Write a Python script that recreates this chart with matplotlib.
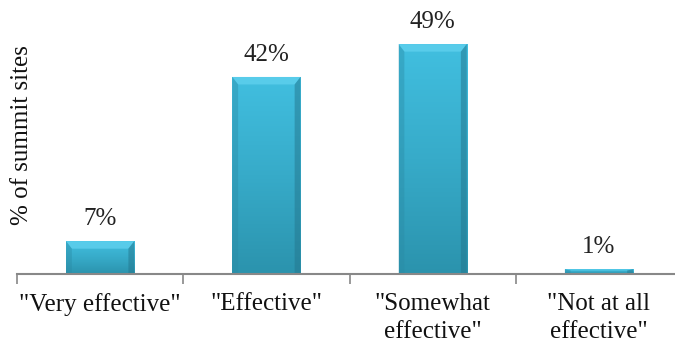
import numpy as np
import matplotlib.pyplot as plt
from matplotlib.colors import LinearSegmentedColormap
from matplotlib.patches import Polygon

categories = ['"Very effective"', '"Effective"', '"Somewhat\neffective"', '"Not at all\neffective"']
values = [7, 42, 49, 1]
labels = ['7%', '42%', '49%', '1%']

plt.rcParams['font.family'] = ['Liberation Serif', 'DejaVu Serif']

fig = plt.figure(figsize=(6.75, 3.48), dpi=100)
# axes runs a little past the right edge, like the original
ax = fig.add_axes([17/675, 74/348, 665/675, 274/348])

width = 0.41
x = np.arange(len(values))
bars = ax.bar(x, values, width=width, color='#3ab4d6', edgecolor='#2a7f96', linewidth=0.6, zorder=2)

# vertical shading inside each bar
cmap = LinearSegmentedColormap.from_list('cy', ['#2b93ad', '#37abc9', '#41bfe0'])
grad = np.linspace(0, 1, 256).reshape(-1, 1)
for b in bars:
    x0, y0 = b.get_x(), b.get_y()
    w, h = b.get_width(), b.get_height()
    im = ax.imshow(grad, cmap=cmap, origin='lower', aspect='auto',
                   extent=[x0, x0 + w, y0, y0 + h], zorder=3)
    im.set_clip_path(b)
    # bevel at the top edge
    bv = min(1.6, h * 0.25)
    bx = 0.035
    ax.add_patch(Polygon([[x0, y0 + h], [x0 + w, y0 + h], [x0 + w - bx, y0 + h - bv], [x0 + bx, y0 + h - bv]],
                         closed=True, facecolor='#5fd0ee', edgecolor='none', alpha=0.8, zorder=4))
    # darker sides
    ax.add_patch(Polygon([[x0, y0], [x0, y0 + h], [x0 + bx, y0 + h - bv], [x0 + bx, y0]],
                         closed=True, facecolor='#2a8aa4', edgecolor='none', alpha=0.4, zorder=4))
    ax.add_patch(Polygon([[x0 + w, y0], [x0 + w, y0 + h], [x0 + w - bx, y0 + h - bv], [x0 + w - bx, y0]],
                         closed=True, facecolor='#24768d', edgecolor='none', alpha=0.5, zorder=4))

for xi, v, lab in zip(x, values, labels):
    ax.text(xi, v + 3.4, lab, ha='center', va='baseline', fontsize=18, color='#222222')

ax.set_xlim(-0.5, 3.5)
ax.set_ylim(0, 58.4)

ax.set_xticks(x)
ax.set_xticklabels(categories, fontsize=18, color='#111111', linespacing=1.3)
ax.set_xticks(np.arange(-0.5, 3.5, 1.0), minor=True)
ax.tick_params(axis='x', which='major', length=0, pad=14)
ax.tick_params(axis='x', which='minor', length=7, width=1.2, color='#888888')
ax.set_yticks([])

for s in ['top', 'right', 'left']:
    ax.spines[s].set_visible(False)
ax.spines['bottom'].set_color('#888888')
ax.spines['bottom'].set_linewidth(1.5)
ax.spines['bottom'].set_zorder(5)

fig.text(22/675, 1 - 135/348, '% of summit sites', rotation=90, ha='center', va='center',
         fontsize=18, color='#111111')

fig.savefig('out.png', dpi=100)
